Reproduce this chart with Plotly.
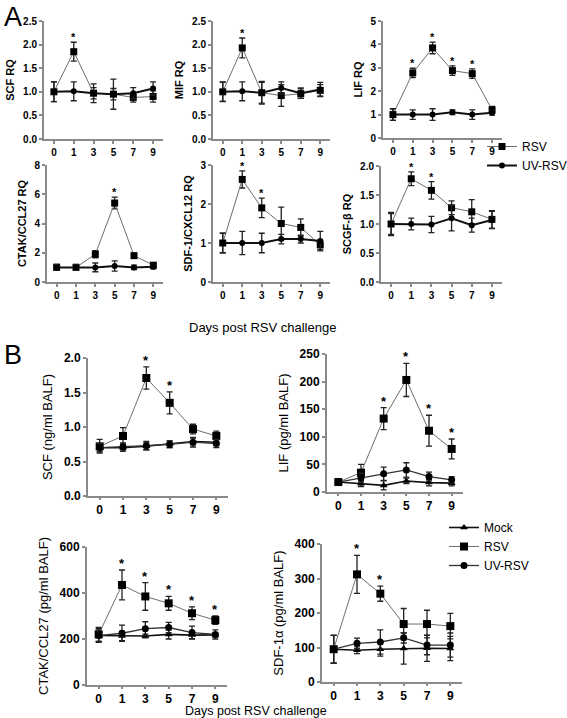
import plotly.graph_objects as go

W, H = 567, 718          # reference canvas (pixel layout coordinates)
FW = 600                 # figure a bit wider than the window so the legend is not pushed left
days = ["0", "1", "3", "5", "7", "9"]

# ---------------- Panel A (RQ) ----------------
a_scf_rsv = [1.0, 1.85, 0.97, 0.95, 0.88, 0.90]
a_scf_rsv_err = [0.21, 0.20, 0.12, 0.32, 0.10, 0.12]
a_scf_uv = [1.0, 1.01, 0.97, 0.95, 0.97, 1.07]
a_scf_uv_err = [0.21, 0.20, 0.20, 0.12, 0.12, 0.14]
a_scf_star = [1]

a_mif_rsv = [1.0, 1.93, 0.98, 0.92, 0.96, 1.03]
a_mif_rsv_err = [0.20, 0.21, 0.22, 0.23, 0.10, 0.12]
a_mif_uv = [1.0, 1.01, 0.98, 1.08, 0.97, 1.05]
a_mif_uv_err = [0.21, 0.20, 0.24, 0.13, 0.11, 0.15]
a_mif_star = [1]

a_lif_rsv = [1.0, 2.78, 3.85, 2.88, 2.75, 1.20]
a_lif_rsv_err = [0.25, 0.20, 0.25, 0.20, 0.20, 0.15]
a_lif_uv = [1.0, 1.0, 1.0, 1.10, 1.0, 1.08]
a_lif_uv_err = [0.25, 0.20, 0.25, 0.10, 0.20, 0.10]
a_lif_star = [1, 3, 5, 7]

a_ctak_rsv = [1.0, 1.0, 1.9, 5.4, 1.8, 1.15]
a_ctak_rsv_err = [0.20, 0.15, 0.25, 0.40, 0.15, 0.15]
a_ctak_uv = [1.0, 1.0, 1.0, 1.1, 1.0, 1.05]
a_ctak_uv_err = [0.20, 0.20, 0.30, 0.35, 0.15, 0.15]
a_ctak_star = [5]

a_sdf_rsv = [1.0, 2.63, 1.90, 1.50, 1.40, 0.95]
a_sdf_rsv_err = [0.25, 0.22, 0.25, 0.42, 0.22, 0.12]
a_sdf_uv = [1.0, 1.0, 1.0, 1.1, 1.1, 1.05]
a_sdf_uv_err = [0.25, 0.30, 0.25, 0.12, 0.10, 0.25]
a_sdf_star = [1, 3]

a_scgf_rsv = [1.0, 1.78, 1.58, 1.28, 1.21, 1.08]
a_scgf_rsv_err = [0.20, 0.12, 0.15, 0.12, 0.21, 0.15]
a_scgf_uv = [1.0, 1.0, 0.99, 1.10, 0.98, 1.07]
a_scgf_uv_err = [0.18, 0.10, 0.14, 0.22, 0.12, 0.15]
a_scgf_star = [1, 3]

# ---------------- Panel B (protein) ----------------
b_scf_mock = [0.70, 0.70, 0.72, 0.75, 0.79, 0.78]
b_scf_mock_err = [0.06, 0.05, 0.05, 0.05, 0.05, 0.05]
b_scf_rsv = [0.72, 0.87, 1.71, 1.35, 0.97, 0.87]
b_scf_rsv_err = [0.10, 0.12, 0.16, 0.16, 0.07, 0.07]
b_scf_uv = [0.70, 0.71, 0.73, 0.75, 0.78, 0.76]
b_scf_uv_err = [0.06, 0.06, 0.06, 0.05, 0.07, 0.06]
b_scf_star = [3, 5]

b_lif_mock = [18, 15, 12, 20, 17, 16]
b_lif_mock_err = [0, 5, 8, 5, 6, 5]
b_lif_rsv = [18, 35, 133, 203, 111, 78]
b_lif_rsv_err = [0, 15, 20, 30, 28, 18]
b_lif_uv = [18, 26, 33, 40, 28, 22]
b_lif_uv_err = [0, 8, 12, 13, 8, 6]
b_lif_star = [3, 5, 7, 9]

b_ctak_mock = [215, 213, 213, 220, 217, 218]
b_ctak_mock_err = [25, 20, 8, 20, 15, 10]
b_ctak_rsv = [220, 435, 385, 355, 312, 282]
b_ctak_rsv_err = [30, 65, 60, 30, 28, 18]
b_ctak_uv = [215, 225, 245, 250, 228, 220]
b_ctak_uv_err = [30, 35, 30, 22, 28, 20]
b_ctak_star = [1, 3, 5, 7, 9]

b_sdf_mock = [95, 92, 95, 97, 98, 97]
b_sdf_mock_err = [40, 10, 20, 45, 38, 35]
b_sdf_rsv = [95, 312, 256, 168, 168, 162]
b_sdf_rsv_err = [40, 55, 22, 45, 40, 37]
b_sdf_uv = [95, 112, 116, 128, 107, 107]
b_sdf_uv_err = [40, 15, 35, 15, 28, 35]
b_sdf_star = [1, 3]

FONT = "Liberation Sans, Arial, sans-serif"

panels = [
    dict(box=(44, 163, 21, 139), ymax=2.5, dtick=0.5, fmt=".1f", title="SCF RQ", grp="A",
         series=[("RSV", a_scf_rsv, a_scf_rsv_err), ("UV-RSV", a_scf_uv, a_scf_uv_err)], stars=a_scf_star),
    dict(box=(213, 330, 21, 139), ymax=2.5, dtick=0.5, fmt=".1f", title="MIF RQ", grp="A",
         series=[("RSV", a_mif_rsv, a_mif_rsv_err), ("UV-RSV", a_mif_uv, a_mif_uv_err)], stars=a_mif_star),
    dict(box=(383, 502, 21, 138), ymax=5, dtick=1, fmt="d", title="LIF RQ", grp="A",
         series=[("RSV", a_lif_rsv, a_lif_rsv_err), ("UV-RSV", a_lif_uv, a_lif_uv_err)], stars=a_lif_star),
    dict(box=(47, 163, 165, 282), ymax=8, dtick=2, fmt="d", title="CTAK/CCL27 RQ", grp="A",
         series=[("RSV", a_ctak_rsv, a_ctak_rsv_err), ("UV-RSV", a_ctak_uv, a_ctak_uv_err)], stars=a_ctak_star),
    dict(box=(213, 330, 165, 282), ymax=3, dtick=1, fmt="d", title="SDF-1/CXCL12 RQ", grp="A",
         series=[("RSV", a_sdf_rsv, a_sdf_rsv_err), ("UV-RSV", a_sdf_uv, a_sdf_uv_err)], stars=a_sdf_star),
    dict(box=(381, 502, 166, 282), ymax=2.0, dtick=0.5, fmt=".1f", title="SCGF-β RQ", grp="A",
         series=[("RSV", a_scgf_rsv, a_scgf_rsv_err), ("UV-RSV", a_scgf_uv, a_scgf_uv_err)], stars=a_scgf_star),
    dict(box=(88, 228, 358, 496), ymax=2.0, dtick=0.5, fmt=".1f", title="SCF (ng/ml BALF)", grp="B",
         series=[("Mock", b_scf_mock, b_scf_mock_err), ("RSV", b_scf_rsv, b_scf_rsv_err),
                 ("UV-RSV", b_scf_uv, b_scf_uv_err)], stars=b_scf_star),
    dict(box=(327, 463, 354, 492), ymax=250, dtick=50, fmt="d", title="LIF (pg/ml BALF)", grp="B",
         series=[("Mock", b_lif_mock, b_lif_mock_err), ("RSV", b_lif_rsv, b_lif_rsv_err),
                 ("UV-RSV", b_lif_uv, b_lif_uv_err)], stars=b_lif_star),
    dict(box=(87, 227, 547, 685), ymax=600, dtick=200, fmt="d", title="CTAK/CCL27 (pg/ml BALF)", grp="B",
         series=[("Mock", b_ctak_mock, b_ctak_mock_err), ("RSV", b_ctak_rsv, b_ctak_rsv_err),
                 ("UV-RSV", b_ctak_uv, b_ctak_uv_err)], stars=b_ctak_star),
    dict(box=(322, 462, 544, 682), ymax=400, dtick=100, fmt="d", title="SDF-1α (pg/ml BALF)", grp="B",
         series=[("Mock", b_sdf_mock, b_sdf_mock_err), ("RSV", b_sdf_rsv, b_sdf_rsv_err),
                 ("UV-RSV", b_sdf_uv, b_sdf_uv_err)], stars=b_sdf_star),
]

styleA = {
    "RSV": dict(symbol="square", size=7, lc="#6e6e6e", lw=1),
    "UV-RSV": dict(symbol="circle", size=6, lc="#111111", lw=2),
}
styleB = {
    "Mock": dict(symbol="triangle-up", size=7, lc="#111111", lw=1.6),
    "RSV": dict(symbol="square", size=8, lc="#6e6e6e", lw=1),
    "UV-RSV": dict(symbol="circle", size=7, lc="#333333", lw=1.3),
}

fig = go.Figure()
layout = dict(
    width=FW, height=H, margin=dict(l=0, r=0, t=0, b=0, autoexpand=False),
    plot_bgcolor="white", paper_bgcolor="white",
    font=dict(family=FONT, color="black"),
)
annotations = []
x_idx = list(range(len(days)))
legend_done = {"A": False, "B": False}

for k, p in enumerate(panels, start=1):
    x0, x1, yt, yb = p["box"]
    xa = "x" if k == 1 else f"x{k}"
    ya = "y" if k == 1 else f"y{k}"
    A = p["grp"] == "A"
    tick_fs = 10 if A else 12
    layout["xaxis" if k == 1 else f"xaxis{k}"] = dict(
        domain=[x0 / FW, x1 / FW], anchor=ya, range=[-0.5, 5.5],
        tickvals=x_idx, ticktext=days, showline=True, linecolor="#8a8a8a", linewidth=2,
        ticks="outside", ticklen=3 if A else 2, tickwidth=1.5, tickcolor="#8a8a8a",
        showgrid=False, zeroline=False, automargin=False,
        tickfont=dict(size=tick_fs, family=FONT, weight="bold"),
    )
    layout["yaxis" if k == 1 else f"yaxis{k}"] = dict(
        domain=[1 - yb / H, 1 - yt / H], anchor=xa, range=[0, p["ymax"]],
        dtick=p["dtick"], tick0=0, tickformat=p["fmt"],
        showline=True, linecolor="#8a8a8a", linewidth=2,
        ticks="outside", ticklen=3, tickwidth=1.5, tickcolor="#8a8a8a",
        showgrid=False, zeroline=False, automargin=False,
        tickfont=dict(size=tick_fs, family=FONT, weight="bold"),
        title=dict(text=p["title"], standoff=6 if A else 8,
                   font=dict(size=11 if A else 13, family=FONT,
                             weight="bold" if A else "normal")),
    )
    sty = styleA if A else styleB
    lg = "legend" if A else "legend2"
    for name, vals, errs in p["series"]:
        s = sty[name]
        show = not legend_done[p["grp"]]
        fig.add_trace(go.Scatter(
            x=x_idx, y=vals, xaxis=xa, yaxis=ya, name=name, legend=lg,
            showlegend=show, mode="lines+markers", cliponaxis=False,
            line=dict(color=s["lc"], width=s["lw"]),
            marker=dict(symbol=s["symbol"], size=s["size"], color="black"),
            error_y=dict(type="data", array=errs, visible=True, color="#222222",
                         thickness=1.3, width=3),
        ))
    legend_done[p["grp"]] = True
    top = [max(vv[i] + ee[i] for _, vv, ee in p["series"]) for i in x_idx]
    for d in p["stars"]:
        i = days.index(str(d))
        annotations.append(dict(
            x=i, y=top[i], xref=xa, yref=ya, text="*", showarrow=False,
            yanchor="bottom", yshift=-3, font=dict(size=11 if A else 13, family=FONT, weight="bold"),
        ))

annotations += [
    dict(x=2 / FW, y=1 - 0 / H, xref="paper", yref="paper", text="A", showarrow=False,
         xanchor="left", yanchor="top", font=dict(size=27, family=FONT)),
    dict(x=2 / FW, y=1 - 338 / H, xref="paper", yref="paper", text="B", showarrow=False,
         xanchor="left", yanchor="top", font=dict(size=27, family=FONT)),
    dict(x=262 / FW, y=1 - 327 / H, xref="paper", yref="paper", text="Days post RSV challenge",
         showarrow=False, xanchor="center", yanchor="middle", font=dict(size=13, family=FONT)),
    dict(x=256 / FW, y=1 - 718 / H, xref="paper", yref="paper", text="Days post RSV challenge",
         showarrow=False, xanchor="center", yanchor="bottom", yshift=-2,
         font=dict(size=12.5, family=FONT)),
]
layout["annotations"] = annotations
layout["legend"] = dict(x=482 / FW, y=1 - 132 / H, xanchor="left", yanchor="top",
                        font=dict(size=12, family=FONT), itemwidth=30, tracegroupgap=0,
                        bgcolor="rgba(0,0,0,0)")
layout["legend2"] = dict(x=444 / FW, y=1 - 513 / H, xanchor="left", yanchor="top",
                         font=dict(size=12, family=FONT), itemwidth=30, tracegroupgap=0,
                         bgcolor="rgba(0,0,0,0)")
fig.update_layout(**layout)
fig.write_html("out.html", config={"displayModeBar": False},
               post_script="document.body.style.margin='0';")
